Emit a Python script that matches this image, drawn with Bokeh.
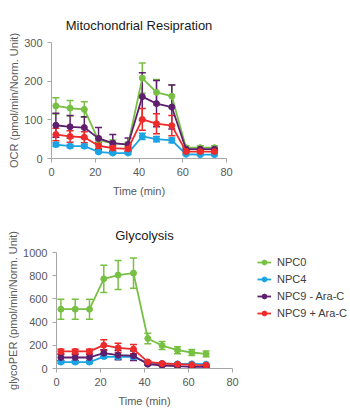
from bokeh.plotting import figure
from bokeh.models import (ColumnDataSource, Range1d, Whisker, TeeHead, Legend,
                          LegendItem, FixedTicker)
from bokeh.layouts import column, row
from bokeh.embed import file_html
from bokeh.resources import INLINE

series_names = ["NPC0", "NPC4", "NPC9 - Ara-C", "NPC9 + Ara-C"]
colors = ["#78C043", "#1BA3E3", "#5E1F6E", "#EE2B2B"]

# Mitochondrial respiration (OCR)
ocr_time = [2, 8.5, 15, 21.5, 28, 35, 41.5, 48, 55, 61.5, 68, 74.5]
ocr_npc0 = [136, 130, 127, 47, 40, 36, 208, 171, 161, 28, 28, 28]
ocr_npc0_err = [21, 20, 20, 10, 8, 6, 39, 33, 30, 5, 5, 5]
ocr_npc4 = [36, 32, 32, 17, 14, 14, 57, 50, 47, 11, 10, 10]
ocr_npc4_err = [5, 4, 4, 3, 3, 3, 8, 7, 6, 2, 2, 2]
ocr_npc9m = [86, 82, 80, 52, 40, 36, 160, 142, 133, 24, 24, 24]
ocr_npc9m_err = [31, 29, 28, 28, 22, 17, 62, 60, 57, 4, 4, 4]
ocr_npc9p = [62, 57, 55, 33, 27, 25, 101, 90, 85, 18, 18, 18]
ocr_npc9p_err = [16, 15, 14, 8, 6, 5, 28, 26, 26, 3, 3, 3]

# Glycolysis (glycoPER)
per_time = [2, 8.5, 15, 21.5, 28, 35, 41.5, 48, 55, 61.5, 68]
per_npc0 = [511, 511, 511, 773, 805, 822, 259, 198, 158, 138, 126]
per_npc0_err = [87, 87, 87, 118, 125, 130, 45, 35, 30, 25, 25]
per_npc4 = [55, 55, 55, 103, 100, 100, 49, 43, 40, 40, 37]
per_npc4_err = [12, 12, 12, 15, 15, 15, 8, 7, 7, 7, 7]
per_npc9m = [95, 95, 95, 132, 115, 110, 37, 26, 20, 14, 14]
per_npc9m_err = [25, 25, 25, 30, 40, 40, 8, 6, 5, 4, 4]
per_npc9p = [147, 147, 147, 201, 178, 167, 57, 43, 37, 32, 29]
per_npc9p_err = [20, 20, 20, 46, 40, 40, 10, 8, 7, 6, 6]

FONT = "Liberation Sans"
TXT = "#595959"
AX = "#A6A6A6"


def style(p, ylabel, yticks):
    p.title.align = "center"
    p.title.text_font = FONT
    p.title.text_font_size = "13px"
    p.title.text_font_style = "normal"
    p.title.text_color = "#1a1a1a"
    p.title.standoff = 20
    p.xgrid.visible = False
    p.ygrid.visible = False
    p.outline_line_color = None
    for ax in (p.xaxis[0], p.yaxis[0]):
        ax.axis_line_color = AX
        ax.major_tick_line_color = AX
        ax.minor_tick_line_color = None
        ax.major_tick_in = 0
        ax.major_tick_out = 4
        ax.major_label_text_font = FONT
        ax.major_label_text_font_size = "11px"
        ax.major_label_text_color = TXT
        ax.axis_label_text_font = FONT
        ax.axis_label_text_font_size = "11px"
        ax.axis_label_text_font_style = "normal"
        ax.axis_label_text_color = TXT
    p.xaxis[0].ticker = FixedTicker(ticks=[0, 20, 40, 60, 80])
    p.yaxis[0].ticker = FixedTicker(ticks=yticks)
    p.xaxis[0].axis_label = "Time (min)"
    p.yaxis[0].axis_label = ylabel
    p.xaxis[0].axis_label_standoff = 6
    p.yaxis[0].axis_label_standoff = 1


def make_source(t, vals, errs):
    return ColumnDataSource(dict(
        x=t, y=vals,
        lo=[v - e for v, e in zip(vals, errs)],
        hi=[v + e for v, e in zip(vals, errs)]))


def add_series(p, src, color, with_err=True):
    if with_err:
        w = Whisker(source=src, base="x", lower="lo", upper="hi",
                    line_color=color, line_width=1.5,
                    upper_head=TeeHead(size=7, line_color=color, line_width=1.5),
                    lower_head=TeeHead(size=7, line_color=color, line_width=1.5))
        p.add_layout(w)
    r1 = p.line("x", "y", source=src, line_color=color, line_width=1.8)
    r2 = p.scatter("x", "y", source=src, size=6, fill_color=color,
                   line_color=color)
    return [r1, r2]


# Top chart
p1 = figure(width=350, height=205, output_backend="svg", toolbar_location=None,
            title="Mitochondrial Resipration",
            x_range=Range1d(0, 80), y_range=Range1d(0, 300),
            min_border_left=51, min_border_right=124,
            min_border_top=42, min_border_bottom=47)
style(p1, "OCR (pmol/min/Norm. Unit)", [0, 100, 200, 300])
for vals, errs, c in zip([ocr_npc0, ocr_npc4, ocr_npc9m, ocr_npc9p],
                         [ocr_npc0_err, ocr_npc4_err, ocr_npc9m_err, ocr_npc9p_err],
                         colors):
    add_series(p1, make_source(ocr_time, vals, errs), c)

# Bottom chart
p2 = figure(width=240, height=206, output_backend="svg", toolbar_location=None,
            title="Glycolysis",
            x_range=Range1d(0, 80), y_range=Range1d(0, 1000),
            min_border_left=56, min_border_right=8,
            min_border_top=47, min_border_bottom=43)
style(p2, "glycoPER (pmol/min/Norm. Unit)", [0, 200, 400, 600, 800, 1000])
per_sources = []
for vals, errs, c in zip([per_npc0, per_npc4, per_npc9m, per_npc9p],
                         [per_npc0_err, per_npc4_err, per_npc9m_err, per_npc9p_err],
                         colors):
    src = make_source(per_time, vals, errs)
    per_sources.append(src)
    add_series(p2, src, c)

# Legend panel (its renderers share the data but lie outside its view)
p3 = figure(width=110, height=206, output_backend="svg", toolbar_location=None,
            x_axis_type=None, y_axis_type=None,
            x_range=Range1d(1000, 1001), y_range=Range1d(0, 1000),
            min_border_left=0, min_border_right=0,
            min_border_top=47, min_border_bottom=43)
p3.outline_line_color = None
p3.xgrid.visible = False
p3.ygrid.visible = False
items = []
for name, src, c in zip(series_names, per_sources, colors):
    rs = add_series(p3, src, c, with_err=False)
    items.append(LegendItem(label=name, renderers=rs))

legend = Legend(items=items, location=(17, 49),
                label_text_font=FONT, label_text_font_size="11px",
                label_text_color="#404040",
                glyph_width=14, glyph_height=12, label_standoff=6,
                spacing=5, padding=0, margin=0,
                border_line_color=None, background_fill_alpha=0)
p3.add_layout(legend)

layout = column(p1, row(p2, p3, spacing=0), spacing=0)
open("out.html", "w").write(file_html(layout, INLINE))
